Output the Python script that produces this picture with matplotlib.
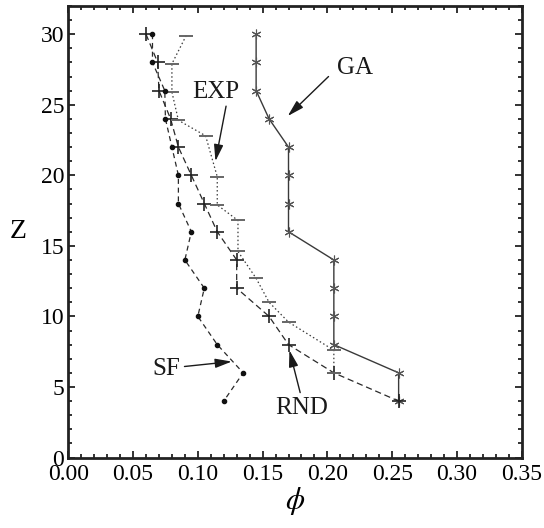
import matplotlib
matplotlib.use("Agg")
import matplotlib.pyplot as plt
from matplotlib.ticker import MultipleLocator, FormatStrFormatter

plt.rcParams['font.family'] = ['Liberation Serif', 'DejaVu Serif']
plt.rcParams['mathtext.fontset'] = 'stix'

# ---- data ----
ga_z   = [30, 28, 26, 24, 22, 20, 18, 16, 14, 12, 10, 8, 6, 4]
ga_phi = [0.145, 0.145, 0.145, 0.155, 0.17, 0.17, 0.17, 0.17, 0.205, 0.205, 0.205, 0.205, 0.255, 0.255]

rnd_z   = [30, 28, 26, 24, 22, 20, 18, 16, 14, 12, 10, 8, 6, 4]
rnd_phi = [0.060, 0.069, 0.070, 0.079, 0.085, 0.095, 0.105, 0.115, 0.130, 0.130, 0.155, 0.170, 0.205, 0.255]

exp_z   = [29.9, 27.9, 25.9, 23.9, 22.8, 19.9, 17.9, 16.8, 14.6, 12.7, 11.0, 9.6, 7.6, 6.0]
exp_phi = [0.091, 0.080, 0.080, 0.085, 0.106, 0.115, 0.115, 0.131, 0.131, 0.145, 0.155, 0.170, 0.205, 0.205]

sf_z   = [30, 28, 26, 24, 22, 20, 18, 16, 14, 12, 10, 8, 6, 4]
sf_phi = [0.065, 0.065, 0.0745, 0.075, 0.080, 0.085, 0.085, 0.095, 0.090, 0.105, 0.100, 0.115, 0.135, 0.120]

x_ticks = [0.00, 0.05, 0.10, 0.15, 0.20, 0.25, 0.30, 0.35]
y_ticks = [0, 5, 10, 15, 20, 25, 30]

labels = ['GA', 'EXP', 'SF', 'RND']
label_pos = [(0.2214, 27.6), (0.1141, 25.9), (0.0755, 6.3), (0.1803, 3.5)]
arrow_tail = [(0.2009, 27.0), (0.1218, 24.9), (0.0897, 6.45), (0.179, 4.6)]
arrow_head = [(0.1694, 24.2), (0.1136, 21.0), (0.1262, 6.8), (0.1707, 7.6)]

fig = plt.figure(figsize=(5.44, 5.28), dpi=100)
ax = fig.add_axes([0.1255, 0.1335, 0.8335, 0.8552])

ax.plot(ga_phi, ga_z, '-', color='#3a3a3a', lw=1.0, marker=(6, 2, 0), ms=7,
        mew=0.8, mec='#555555')
ax.plot(rnd_phi, rnd_z, color='#2a2a2a', lw=0.9, ls=(0, (5, 3)), marker='+', ms=10,
        mew=1.2, mec='#222222')
ax.plot(exp_phi, exp_z, color='#3a3a3a', lw=0.9, ls=(0, (1.2, 2)), marker='_', ms=10,
        mew=1.4, mec='#666666')
ax.plot(sf_phi, sf_z, color='#2a2a2a', lw=0.9, ls=(0, (4, 3)), marker='o', ms=3,
        mfc='#111111', mec='#111111')

for lab, p, t, h in zip(labels, label_pos, arrow_tail, arrow_head):
    ax.text(p[0], p[1], lab, fontsize=18, ha='center', va='center', color='#1a1a1a')
    ax.annotate('', xy=h, xytext=t,
                arrowprops=dict(arrowstyle='-|>,head_length=1.0,head_width=0.28',
                                color='#1a1a1a', lw=1.0, shrinkA=0, shrinkB=0))

ax.set_xlim(0, 0.35)
ax.set_ylim(0, 32)
ax.set_xticks(x_ticks)
ax.set_yticks(y_ticks)
ax.xaxis.set_major_formatter(FormatStrFormatter('%.2f'))
ax.xaxis.set_minor_locator(MultipleLocator(0.01))
ax.yaxis.set_minor_locator(MultipleLocator(1))
ax.tick_params(which='both', direction='in', top=True, right=True, labelsize=17,
               width=1.3, color='#222222')
ax.tick_params(which='major', length=5)
ax.tick_params(axis='x', which='major', pad=5)
ax.tick_params(axis='y', which='major', pad=3)
ax.tick_params(which='minor', length=3)
for s in ax.spines.values():
    s.set_linewidth(2.0)
    s.set_color('#222222')

ax.set_xlabel(r'$\phi$', fontsize=22, labelpad=0)
ax.set_ylabel('Z', fontsize=20, rotation=0, labelpad=16, va='center')

fig.savefig('out.png', dpi=100)
